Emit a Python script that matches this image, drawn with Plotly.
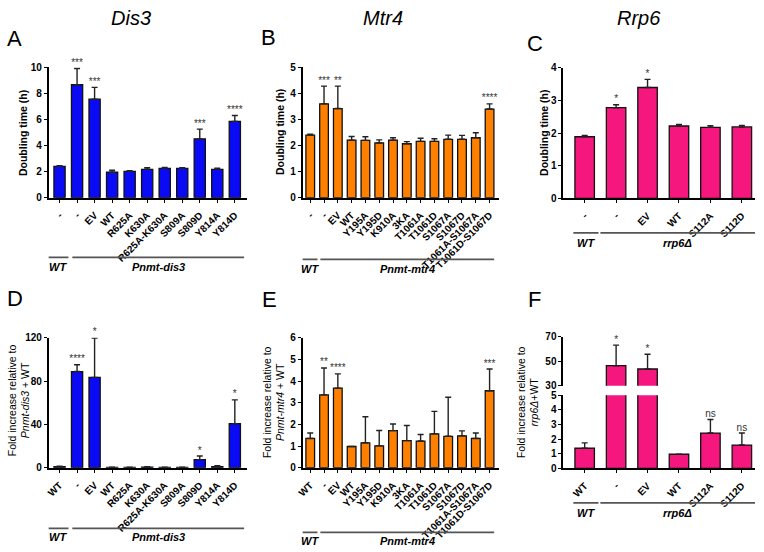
import plotly.graph_objects as go

W, H = 764, 552
FONT = "Liberation Sans"

# ---------------- data ----------------
labels_A = ["-", "-", "EV", "WT", "R625A", "K630A", "R625A-K630A", "S809A", "S809D", "Y814A", "Y814D"]
vals_A = [2.40, 8.65, 7.55, 1.95, 2.02, 2.17, 2.25, 2.25, 4.50, 2.17, 5.85]
err_A = [0.05, 1.25, 0.90, 0.15, 0.05, 0.13, 0.07, 0.05, 0.75, 0.10, 0.45]
stars_A = ["", "***", "***", "", "", "", "", "", "***", "", "****"]

labels_B = ["-", "-", "EV", "WT", "Y195A", "Y195D", "K910A", "3KA", "T1061A", "T1061D",
            "S1067A", "S1067D", "T1061A-S1067A", "T1061D-S1067D"]
vals_B = [2.40, 3.60, 3.42, 2.21, 2.20, 2.10, 2.21, 2.07, 2.16, 2.16, 2.24, 2.24, 2.30, 3.40]
err_B = [0.04, 0.68, 0.86, 0.14, 0.14, 0.12, 0.09, 0.08, 0.12, 0.10, 0.16, 0.15, 0.19, 0.20]
stars_B = ["", "***", "**", "", "", "", "", "", "", "", "", "", "", "****"]

labels_C = ["-", "-", "EV", "WT", "S112A", "S112D"]
vals_C = [1.89, 2.78, 3.40, 2.22, 2.18, 2.19]
err_C = [0.04, 0.09, 0.25, 0.05, 0.05, 0.05]
stars_C = ["", "*", "*", "", "", ""]

labels_D = ["WT", "-", "EV", "WT", "R625A", "K630A", "R625A-K630A", "S809A", "S809D", "Y814A", "Y814D"]
vals_D = [1.0, 88.7, 83.3, 0.3, 0.3, 0.6, 0.3, 0.3, 7.5, 1.0, 40.6]
err_D = [0.4, 6.3, 36.4, 0.1, 0.2, 0.3, 0.1, 0.1, 3.3, 0.8, 22.0]
stars_D = ["", "****", "*", "", "", "", "", "", "*", "", "*"]

labels_E = ["WT", "-", "EV", "WT", "Y195A", "Y195D", "K910A", "3KA", "T1061A", "T1061D",
            "S1067A", "S1067D", "T1061A-S1067A", "T1061D-S1067D"]
vals_E = [1.35, 3.36, 3.67, 0.98, 1.15, 1.01, 1.71, 1.25, 1.23, 1.56, 1.45, 1.47, 1.35, 3.55]
err_E = [0.25, 1.24, 0.66, 0.0, 1.20, 0.71, 0.31, 0.70, 0.30, 1.04, 1.80, 0.23, 0.25, 1.00]
stars_E = ["", "**", "****", "", "", "", "", "", "", "", "", "", "", "***"]

labels_F = ["WT", "-", "EV", "WT", "S112A", "S112D"]
vals_F = [1.38, 46.5, 43.8, 0.97, 2.42, 1.60]
err_F = [0.37, 16.8, 12.0, 0.0, 0.93, 0.82]
stars_F = ["", "*", "*", "", "ns", "ns"]

groups_A = [("WT", 0, 0), ("Pnmt-dis3", 1, 10)]
groups_B = [("WT", 0, 0), ("Pnmt-mtr4", 1, 13)]
groups_C = [("WT", 0, 0), ("rrp6Δ", 1, 5)]

BLUE = "#0A0AF5"
ORANGE = "#FF8000"
PINK = "#F5167E"

# ---------------- helpers ----------------
def dx(a, b):
    return [a / W, b / W]

def dy(top, bot):
    return [1 - bot / H, 1 - top / H]

fig = go.Figure()

def axname(i, kind):
    return kind if i == 1 else f"{kind}{i}"

def add_panel(i, labels, vals, errs, stars, color, xdom, xrange, ydom, yrange, ytickvals,
              width, show_x=True, star_size=10):
    n = len(vals)
    idx = list(range(n))
    xa, ya = axname(i, "x"), axname(i, "y")
    fig.add_trace(go.Bar(
        x=idx, y=vals, width=width, marker=dict(color=color, line=dict(color="#111", width=1.3)),
        error_y=dict(type="data", array=errs, arrayminus=[0] * n, symmetric=False,
                     color="#222", thickness=1.4, width=3),
        xaxis=xa, yaxis=ya, showlegend=False, hoverinfo="skip"))
    sx, sy, st = [], [], []
    for k in range(n):
        top = vals[k] + errs[k]
        if stars[k] and yrange[0] <= top <= yrange[1]:
            sx.append(k); sy.append(top); st.append(stars[k])
    if sx:
        fig.add_trace(go.Scatter(
            x=sx, y=sy, text=st, mode="text", textposition="top center",
            textfont=dict(family=FONT, size=star_size, color="#333333"),
            xaxis=xa, yaxis=ya, showlegend=False, hoverinfo="skip", cliponaxis=False))
    xkey = "xaxis" if i == 1 else f"xaxis{i}"
    ykey = "yaxis" if i == 1 else f"yaxis{i}"
    fig.layout[xkey] = dict(
        domain=dx(*xdom), range=xrange, anchor=ya, showline=show_x, visible=show_x,
        linecolor="black", linewidth=1.6, ticks="outside", ticklen=3, tickwidth=1.2,
        tickcolor="black", tickmode="array", tickvals=idx, ticktext=labels, tickangle=-45,
        ticklabelstandoff=3,
        tickfont=dict(family=FONT, size=10, color="black", weight="bold"),
        showgrid=False, zeroline=False, fixedrange=True)
    fig.layout[ykey] = dict(
        domain=dy(*ydom), range=yrange, anchor=xa, showline=True, linecolor="black",
        linewidth=1.6, ticks="outside", ticklen=3, tickwidth=1.2, tickcolor="black",
        tickmode="array", tickvals=ytickvals,
        tickfont=dict(family=FONT, size=10, color="black", weight="bold"),
        showgrid=False, zeroline=False, fixedrange=True)

def add_groups(i, groups, pad_l, pad_r, shift, gap, y_line, y_text):
    xa = axname(i, "x")
    for g, (name, s, e) in enumerate(groups):
        x0 = s - pad_l if g == 0 else groups[g - 1][2] + 0.5 + shift + gap / 2
        x1 = e + pad_r if g == len(groups) - 1 else e + 0.5 + shift - gap / 2
        fig.add_shape(type="line", xref=xa, yref="paper", x0=x0, x1=x1,
                      y0=1 - y_line / H, y1=1 - y_line / H,
                      line=dict(color="#555", width=1.8))
        fig.add_annotation(xref=xa, yref="paper", x=(x0 + x1) / 2, y=1 - y_text / H,
                           text=f"<b><i>{name}</i></b>", showarrow=False,
                           font=dict(family=FONT, size=11, color="black"),
                           xanchor="center", yanchor="middle")

# A
add_panel(1, labels_A, vals_A, err_A, stars_A, BLUE, (43, 243), [-0.62, 10.70],
          (62.5, 196), [0, 10], [0, 2, 4, 6, 8, 10], 0.64)
# B
add_panel(2, labels_B, vals_B, err_B, stars_B, ORANGE, (299, 497), [-0.55, 13.69],
          (62.7, 196), [0, 5], [0, 1, 2, 3, 4, 5], 0.63)
# C
add_panel(3, labels_C, vals_C, err_C, stars_C, PINK, (561.7, 755), [-0.68, 5.42],
          (63.3, 196.7), [0, 4], [0, 1, 2, 3, 4], 0.62)
# D
add_panel(4, labels_D, vals_D, err_D, stars_D, BLUE, (43, 243), [-0.62, 10.70],
          (339, 472), [0, 120], [0, 40, 80, 120], 0.64)
# E
add_panel(5, labels_E, vals_E, err_E, stars_E, ORANGE, (299, 497), [-0.55, 13.69],
          (339, 472), [0, 6], [0, 1, 2, 3, 4, 5, 6], 0.63)
# F lower / upper (broken axis)
add_panel(6, labels_F, vals_F, err_F, stars_F, PINK, (561.7, 755), [-0.68, 5.42],
          (398, 472.7), [0, 5], [0, 1, 2, 3, 4, 5], 0.62)
add_panel(7, labels_F, vals_F, err_F, stars_F, PINK, (561.7, 755), [-0.68, 5.42],
          (338.3, 388.3), [30, 70], [30, 50, 70], 0.62, show_x=False)

add_groups(1, groups_A, 0.68, 0.53, 0.12, 0.22, 257, 267)
add_groups(2, groups_B, 0.63, 0.33, 0.13, 0.21, 259, 269)
add_groups(3, groups_C, 0.36, 0.42, -0.03, 0.06, 232, 242)
add_groups(4, groups_A, 0.68, 0.53, 0.12, 0.22, 534, 543)
add_groups(5, groups_B, 0.63, 0.33, 0.13, 0.21, 538, 547)
add_groups(6, groups_C, 0.36, 0.42, -0.03, 0.06, 508, 518)

def ann(x, y, text, size, angle=0, color="black"):
    fig.add_annotation(xref="paper", yref="paper", x=x / W, y=1 - y / H, text=text,
                       showarrow=False, textangle=angle, xanchor="center", yanchor="middle",
                       font=dict(family=FONT, size=size, color=color))

# column titles
ann(126, 12, "<i>Dis3</i>", 20)
ann(380, 12, "<i>Mtr4</i>", 20)
ann(638, 12, "<i>Rrp6</i>", 20)
# panel letters
ann(9, 33, "A", 22)
ann(265, 32, "B", 22)
ann(533, 38, "C", 22)
ann(9, 299, "D", 22)
ann(266, 300, "E", 22)
ann(533, 300, "F", 22)
# y titles
ann(17, 130, "<b>Doubling time (h)</b>", 10.5, -90)
ann(276, 129, "<b>Doubling time (h)</b>", 10.5, -90)
ann(542, 130, "<b>Doubling time (h)</b>", 10.5, -90)
ann(13, 403, "Fold increase relative to<br><i>Pnmt-dis3</i> + WT", 10.5, -90)
ann(270, 405, "Fold increase relative to<br><i>Pnmt-mtr4</i> + WT", 10.5, -90)
ann(526, 405, "Fold increase relative to<br><i>rrp6Δ</i>+WT", 10.5, -90)

fig.update_layout(width=W, height=H, margin=dict(l=0, r=0, t=0, b=0),
                  paper_bgcolor="white", plot_bgcolor="white", bargap=0.3,
                  font=dict(family=FONT))
fig.write_html("out.html", config={"displayModeBar": False},
               post_script="document.body.style.margin='0';")
